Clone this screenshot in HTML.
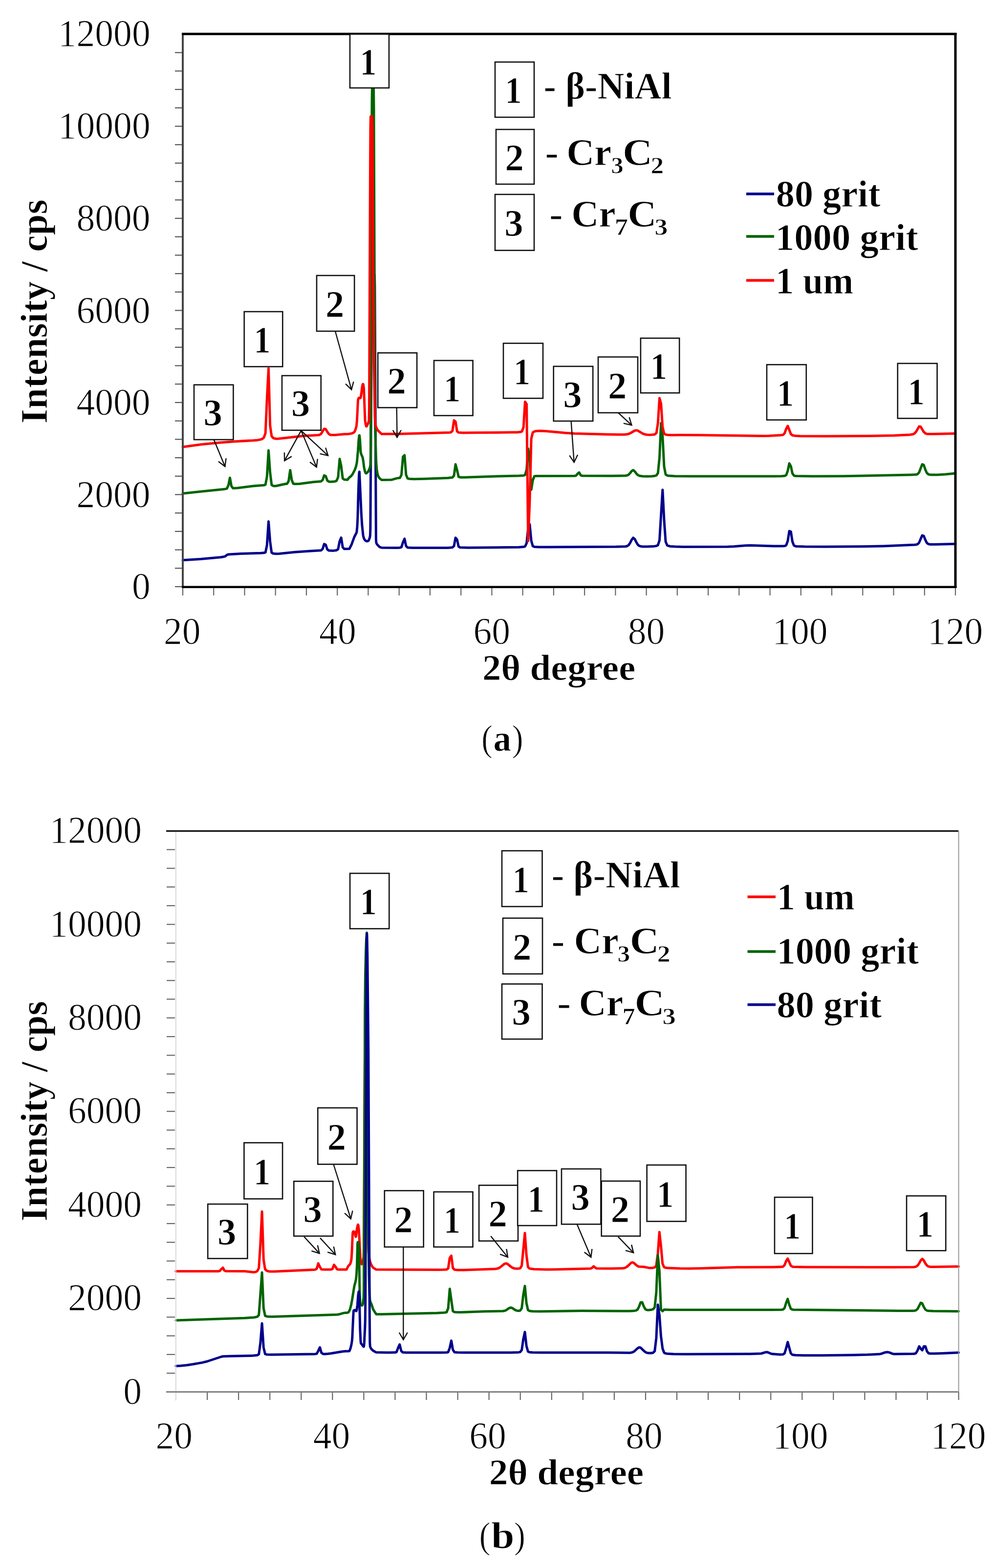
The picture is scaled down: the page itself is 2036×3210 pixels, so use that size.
<!DOCTYPE html>
<html><head><meta charset="utf-8"><title>XRD patterns</title>
<style>html,body{margin:0;padding:0;background:#fff;}svg{display:block;}</style></head>
<body><svg xmlns="http://www.w3.org/2000/svg" width="2036" height="3210" viewBox="0 0 2036 3210">
<rect width="2036" height="3210" fill="#fff"/>
<polyline points="374.0,1146.8 410.4,1144.4 451.5,1140.7 457.8,1139.7 461.0,1138.8 464.1,1136.2 467.3,1134.9 492.6,1133.4 533.7,1132.3 540.0,1131.8 543.2,1130.8 546.3,1115.9 549.5,1067.5 552.7,1108.5 555.8,1131.3 559.0,1133.2 565.3,1133.7 571.6,1133.5 603.3,1130.3 631.7,1128.2 657.0,1126.8 660.2,1123.8 663.3,1113.7 666.5,1115.2 669.7,1124.7 672.8,1127.1 682.3,1127.4 688.6,1126.5 691.8,1124.2 695.0,1108.1 698.1,1100.7 701.3,1120.4 704.4,1123.8 714.9,1123.5 719.4,1114.6 724.9,1099.5 729.4,1090.6 729.9,1089.1 730.9,1078.4 731.9,1059.7 733.4,1002.7 734.4,977.1 734.9,968.1 735.4,965.7 739.4,1052.6 740.9,1075.3 742.9,1094.6 743.4,1097.8 744.4,1101.3 745.4,1103.7 746.9,1105.9 748.9,1107.4 750.4,1108.0 752.4,1107.7 753.9,1107.0 754.4,1106.4 756.4,1101.4 757.4,1096.5 757.9,1081.6 760.4,653.6 761.4,606.6 762.4,575.8 762.9,566.6 763.4,562.6 763.9,562.5 766.4,562.5 766.9,587.3 769.4,1102.9 769.9,1110.9 770.9,1113.3 771.9,1114.8 775.9,1119.1 777.9,1120.4 780.9,1121.2 812.0,1121.4 818.3,1121.2 821.4,1120.2 824.6,1110.3 827.8,1102.9 830.9,1117.7 834.1,1121.1 843.6,1121.6 881.5,1121.6 916.3,1121.4 925.8,1120.8 929.0,1117.8 932.1,1100.9 935.3,1104.7 938.4,1119.0 941.6,1120.8 957.4,1121.2 1036.5,1120.6 1061.8,1120.3 1071.2,1119.6 1074.4,1118.7 1077.6,1111.9 1080.7,1081.8 1083.9,1073.4 1087.1,1106.9 1090.2,1118.0 1093.4,1119.4 1102.9,1120.0 1121.8,1120.1 1261.0,1119.3 1279.9,1118.7 1283.1,1118.0 1286.3,1116.0 1289.4,1111.4 1292.6,1105.0 1295.7,1100.9 1298.9,1103.6 1302.1,1110.0 1305.2,1115.2 1308.4,1117.7 1311.6,1118.6 1314.7,1118.9 1324.2,1119.0 1336.8,1118.6 1343.2,1117.6 1346.3,1116.1 1349.5,1106.1 1355.8,1002.7 1359.0,1065.1 1362.1,1109.0 1365.3,1116.5 1368.5,1117.8 1371.6,1118.4 1381.1,1119.1 1396.9,1119.4 1488.6,1119.3 1501.3,1118.7 1526.6,1116.7 1536.1,1116.4 1583.5,1117.9 1599.3,1118.0 1605.6,1117.7 1608.8,1116.2 1611.9,1107.5 1615.1,1087.2 1618.3,1088.3 1621.4,1108.5 1624.6,1116.8 1627.8,1118.2 1630.9,1118.6 1646.7,1119.1 1687.8,1119.3 1763.7,1118.8 1808.0,1117.9 1871.2,1115.3 1874.4,1115.0 1877.6,1114.1 1880.7,1110.9 1887.0,1096.0 1890.2,1097.1 1893.4,1105.2 1896.5,1111.4 1899.7,1113.8 1902.8,1114.4 1912.3,1114.5 1955.0,1113.4" fill="none" stroke="#00008b" stroke-width="5.0" stroke-linejoin="round" stroke-linecap="round"/>
<polyline points="374.0,1010.3 413.5,1006.0 457.8,1001.6 464.1,1000.4 467.3,993.7 470.5,978.1 473.6,995.5 476.8,999.4 486.3,998.9 517.9,995.1 536.9,993.6 540.0,993.3 543.2,992.1 546.3,975.6 549.5,922.1 552.7,967.4 555.8,992.6 559.0,994.7 562.2,995.0 565.3,994.7 581.1,991.3 587.5,990.3 590.6,984.8 593.8,962.4 596.9,982.2 600.1,990.2 603.3,990.7 612.8,990.5 641.2,986.8 657.0,985.4 660.2,982.6 663.3,973.2 666.5,974.7 669.7,983.7 672.8,985.9 676.0,986.2 682.3,986.1 685.5,985.5 688.6,984.3 691.8,977.1 695.0,939.6 698.1,953.9 701.3,979.4 704.4,981.7 711.0,982.3 714.0,978.2 718.5,974.5 721.5,970.7 726.0,961.9 728.5,954.9 730.0,948.3 730.5,944.6 732.5,922.4 734.0,900.0 735.0,891.7 735.5,891.4 736.5,900.0 738.0,925.0 739.0,929.4 742.0,936.2 743.5,945.0 745.0,957.1 746.5,964.0 748.0,968.3 748.5,968.9 749.0,969.0 750.5,968.3 752.5,966.5 755.0,962.2 757.0,956.8 758.0,951.4 758.5,929.1 760.5,325.9 761.0,211.3 761.5,178.5 764.5,178.5 765.0,221.0 767.0,768.9 767.5,858.7 768.0,888.9 769.5,939.5 770.0,949.8 771.0,961.6 772.5,970.3 774.0,975.0 776.0,978.3 780.0,982.0 781.0,982.5 799.3,982.3 802.5,981.9 812.0,979.1 818.3,978.2 821.4,972.4 824.6,935.1 827.8,931.9 830.9,972.0 834.1,979.4 837.3,980.2 846.7,980.7 868.9,980.3 916.3,978.4 925.8,977.5 929.0,973.6 932.1,950.6 935.3,962.4 938.4,976.2 941.6,977.2 951.1,977.3 1017.5,975.0 1061.8,974.1 1071.2,973.5 1074.4,972.3 1077.6,961.5 1080.7,918.5 1083.9,942.1 1087.1,1002.4 1090.2,983.3 1093.4,975.0 1096.5,974.4 1175.6,974.2 1178.7,973.7 1181.9,969.7 1185.1,967.3 1188.2,972.9 1191.4,974.1 1251.5,974.2 1279.9,973.8 1283.1,973.3 1286.3,971.7 1289.4,968.4 1292.6,964.3 1295.7,962.4 1298.9,965.1 1302.1,969.4 1305.2,972.6 1308.4,974.1 1314.7,974.9 1324.2,975.2 1333.7,975.0 1340.0,974.2 1343.2,973.2 1346.3,968.5 1349.5,936.6 1352.7,866.2 1355.8,893.1 1359.0,955.6 1362.1,971.3 1365.3,973.4 1368.5,974.1 1381.1,974.8 1415.9,975.0 1583.5,974.9 1599.3,974.7 1605.6,974.2 1608.8,972.5 1611.9,963.8 1615.1,948.6 1618.3,954.5 1621.4,969.0 1624.6,973.7 1627.8,974.4 1630.9,974.6 1662.5,975.0 1725.8,974.8 1864.9,972.0 1874.4,971.6 1877.6,970.6 1880.7,967.1 1887.0,950.6 1890.2,951.9 1893.4,961.2 1896.5,968.2 1899.7,971.0 1902.8,971.8 1906.0,972.0 1918.7,972.0 1934.5,971.0 1955.0,969.0" fill="none" stroke="#006400" stroke-width="5.0" stroke-linejoin="round" stroke-linecap="round"/>
<polyline points="374.0,915.0 410.4,910.1 448.3,906.2 476.8,903.9 517.9,901.7 527.4,900.9 533.7,899.6 536.9,898.4 540.0,895.7 543.2,886.7 546.3,815.7 549.5,754.2 552.7,871.2 555.8,892.9 559.0,896.6 562.2,897.8 565.3,898.3 568.5,898.3 622.2,892.2 650.7,890.8 653.9,890.2 657.0,888.1 663.3,877.9 666.5,878.4 669.7,884.0 672.8,888.4 676.0,890.2 679.2,890.6 685.5,890.5 704.4,888.8 713.5,888.4 719.5,887.4 723.0,886.0 725.0,884.5 726.0,882.9 728.5,876.0 729.5,871.5 730.5,859.9 732.5,820.7 733.0,817.3 734.0,814.8 734.5,814.5 737.5,815.0 738.0,814.0 739.5,805.0 741.0,792.0 742.0,787.5 742.5,786.2 743.0,786.2 743.5,787.7 744.5,795.0 747.0,860.0 748.0,867.3 749.0,871.8 749.5,872.8 750.0,872.9 750.5,872.4 753.5,866.0 755.0,860.6 755.5,833.1 757.5,351.0 758.0,263.4 758.5,238.5 761.5,238.5 762.0,256.6 764.0,611.3 765.0,722.8 767.0,850.4 767.5,863.7 768.0,867.9 769.5,874.0 771.5,878.4 773.5,881.4 781.0,888.6 818.3,888.3 919.5,885.4 922.6,885.1 925.8,882.2 929.0,860.6 932.1,863.1 935.3,883.0 938.4,885.4 947.9,885.9 973.2,885.8 1049.1,885.1 1058.6,884.9 1064.9,884.3 1068.1,883.2 1071.2,874.4 1074.4,822.5 1077.6,827.3 1080.7,1107.6 1083.9,1026.8 1087.1,898.1 1090.2,885.3 1093.4,883.3 1096.5,882.5 1106.0,882.1 1118.7,882.7 1156.6,886.2 1175.6,887.4 1242.0,889.3 1276.8,889.7 1283.1,889.1 1286.3,888.3 1289.4,887.0 1298.9,881.5 1302.1,880.9 1305.2,881.7 1314.7,887.4 1317.9,888.7 1321.0,889.6 1324.2,890.0 1330.5,890.2 1336.8,889.8 1340.0,889.2 1343.2,886.4 1346.3,866.2 1349.5,815.0 1352.7,826.7 1355.8,874.4 1359.0,887.8 1362.1,889.6 1365.3,890.2 1374.8,890.7 1390.6,890.5 1431.7,890.8 1561.4,892.4 1574.0,892.2 1599.3,890.7 1602.5,890.1 1605.6,886.7 1608.8,877.7 1611.9,872.0 1618.3,888.5 1621.4,891.2 1627.8,892.2 1637.2,892.8 1691.0,893.0 1792.2,892.3 1830.1,891.4 1861.7,889.9 1868.1,889.0 1871.2,887.5 1874.4,883.9 1880.7,873.0 1883.9,873.5 1890.2,884.2 1893.4,887.1 1896.5,888.2 1899.7,888.5 1909.2,888.5 1955.0,887.5" fill="none" stroke="#ff0000" stroke-width="5.0" stroke-linejoin="round" stroke-linecap="round"/>
<line x1="358" y1="1201.0" x2="374" y2="1201.0" stroke="#555" stroke-width="2.2"/>
<line x1="358" y1="1163.3" x2="374" y2="1163.3" stroke="#555" stroke-width="2.2"/>
<line x1="358" y1="1125.6" x2="374" y2="1125.6" stroke="#555" stroke-width="2.2"/>
<line x1="358" y1="1087.9" x2="374" y2="1087.9" stroke="#555" stroke-width="2.2"/>
<line x1="358" y1="1050.2" x2="374" y2="1050.2" stroke="#555" stroke-width="2.2"/>
<line x1="358" y1="1012.5" x2="374" y2="1012.5" stroke="#555" stroke-width="2.2"/>
<line x1="358" y1="974.8" x2="374" y2="974.8" stroke="#555" stroke-width="2.2"/>
<line x1="358" y1="937.1" x2="374" y2="937.1" stroke="#555" stroke-width="2.2"/>
<line x1="358" y1="899.4" x2="374" y2="899.4" stroke="#555" stroke-width="2.2"/>
<line x1="358" y1="861.7" x2="374" y2="861.7" stroke="#555" stroke-width="2.2"/>
<line x1="358" y1="824.0" x2="374" y2="824.0" stroke="#555" stroke-width="2.2"/>
<line x1="358" y1="786.3" x2="374" y2="786.3" stroke="#555" stroke-width="2.2"/>
<line x1="358" y1="748.6" x2="374" y2="748.6" stroke="#555" stroke-width="2.2"/>
<line x1="358" y1="710.9" x2="374" y2="710.9" stroke="#555" stroke-width="2.2"/>
<line x1="358" y1="673.2" x2="374" y2="673.2" stroke="#555" stroke-width="2.2"/>
<line x1="358" y1="635.5" x2="374" y2="635.5" stroke="#555" stroke-width="2.2"/>
<line x1="358" y1="597.8" x2="374" y2="597.8" stroke="#555" stroke-width="2.2"/>
<line x1="358" y1="560.1" x2="374" y2="560.1" stroke="#555" stroke-width="2.2"/>
<line x1="358" y1="522.4" x2="374" y2="522.4" stroke="#555" stroke-width="2.2"/>
<line x1="358" y1="484.7" x2="374" y2="484.7" stroke="#555" stroke-width="2.2"/>
<line x1="358" y1="447.0" x2="374" y2="447.0" stroke="#555" stroke-width="2.2"/>
<line x1="358" y1="409.3" x2="374" y2="409.3" stroke="#555" stroke-width="2.2"/>
<line x1="358" y1="371.6" x2="374" y2="371.6" stroke="#555" stroke-width="2.2"/>
<line x1="358" y1="333.9" x2="374" y2="333.9" stroke="#555" stroke-width="2.2"/>
<line x1="358" y1="296.2" x2="374" y2="296.2" stroke="#555" stroke-width="2.2"/>
<line x1="358" y1="258.5" x2="374" y2="258.5" stroke="#555" stroke-width="2.2"/>
<line x1="358" y1="220.8" x2="374" y2="220.8" stroke="#555" stroke-width="2.2"/>
<line x1="358" y1="183.1" x2="374" y2="183.1" stroke="#555" stroke-width="2.2"/>
<line x1="358" y1="145.4" x2="374" y2="145.4" stroke="#555" stroke-width="2.2"/>
<line x1="358" y1="107.7" x2="374" y2="107.7" stroke="#555" stroke-width="2.2"/>
<line x1="374.0" y1="1204" x2="374.0" y2="1219" stroke="#666" stroke-width="2.2"/>
<line x1="437.2" y1="1204" x2="437.2" y2="1219" stroke="#666" stroke-width="2.2"/>
<line x1="500.5" y1="1204" x2="500.5" y2="1219" stroke="#666" stroke-width="2.2"/>
<line x1="563.7" y1="1204" x2="563.7" y2="1219" stroke="#666" stroke-width="2.2"/>
<line x1="627.0" y1="1204" x2="627.0" y2="1219" stroke="#666" stroke-width="2.2"/>
<line x1="690.2" y1="1204" x2="690.2" y2="1219" stroke="#666" stroke-width="2.2"/>
<line x1="753.4" y1="1204" x2="753.4" y2="1219" stroke="#666" stroke-width="2.2"/>
<line x1="816.7" y1="1204" x2="816.7" y2="1219" stroke="#666" stroke-width="2.2"/>
<line x1="879.9" y1="1204" x2="879.9" y2="1219" stroke="#666" stroke-width="2.2"/>
<line x1="943.2" y1="1204" x2="943.2" y2="1219" stroke="#666" stroke-width="2.2"/>
<line x1="1006.4" y1="1204" x2="1006.4" y2="1219" stroke="#666" stroke-width="2.2"/>
<line x1="1069.6" y1="1204" x2="1069.6" y2="1219" stroke="#666" stroke-width="2.2"/>
<line x1="1132.9" y1="1204" x2="1132.9" y2="1219" stroke="#666" stroke-width="2.2"/>
<line x1="1196.1" y1="1204" x2="1196.1" y2="1219" stroke="#666" stroke-width="2.2"/>
<line x1="1259.4" y1="1204" x2="1259.4" y2="1219" stroke="#666" stroke-width="2.2"/>
<line x1="1322.6" y1="1204" x2="1322.6" y2="1219" stroke="#666" stroke-width="2.2"/>
<line x1="1385.8" y1="1204" x2="1385.8" y2="1219" stroke="#666" stroke-width="2.2"/>
<line x1="1449.1" y1="1204" x2="1449.1" y2="1219" stroke="#666" stroke-width="2.2"/>
<line x1="1512.3" y1="1204" x2="1512.3" y2="1219" stroke="#666" stroke-width="2.2"/>
<line x1="1575.6" y1="1204" x2="1575.6" y2="1219" stroke="#666" stroke-width="2.2"/>
<line x1="1638.8" y1="1204" x2="1638.8" y2="1219" stroke="#666" stroke-width="2.2"/>
<line x1="1702.0" y1="1204" x2="1702.0" y2="1219" stroke="#666" stroke-width="2.2"/>
<line x1="1765.3" y1="1204" x2="1765.3" y2="1219" stroke="#666" stroke-width="2.2"/>
<line x1="1828.5" y1="1204" x2="1828.5" y2="1219" stroke="#666" stroke-width="2.2"/>
<line x1="1891.8" y1="1204" x2="1891.8" y2="1219" stroke="#666" stroke-width="2.2"/>
<line x1="1955.0" y1="1204" x2="1955.0" y2="1219" stroke="#666" stroke-width="2.2"/>
<line x1="374" y1="69.5" x2="374" y2="1203" stroke="#444" stroke-width="4"/>
<line x1="372" y1="1201.8" x2="1957.5" y2="1201.8" stroke="#000" stroke-width="4.5"/>
<line x1="372" y1="69.5" x2="1957.5" y2="69.5" stroke="#000" stroke-width="5"/>
<line x1="1955" y1="67" x2="1955" y2="1203" stroke="#000" stroke-width="5"/>
<text x="269.89" y="1226.22" font-family="'Liberation Serif', 'Times New Roman', serif" font-size="78.5" stroke="#fff" stroke-width="1.1" textLength="37.79" lengthAdjust="spacingAndGlyphs">0</text>
<text x="156.53" y="1037.72" font-family="'Liberation Serif', 'Times New Roman', serif" font-size="78.5" stroke="#fff" stroke-width="1.1" textLength="151.14" lengthAdjust="spacingAndGlyphs">2000</text>
<text x="156.53" y="849.22" font-family="'Liberation Serif', 'Times New Roman', serif" font-size="78.5" stroke="#fff" stroke-width="1.1" textLength="151.14" lengthAdjust="spacingAndGlyphs">4000</text>
<text x="156.53" y="660.72" font-family="'Liberation Serif', 'Times New Roman', serif" font-size="78.5" stroke="#fff" stroke-width="1.1" textLength="151.14" lengthAdjust="spacingAndGlyphs">6000</text>
<text x="156.53" y="472.22" font-family="'Liberation Serif', 'Times New Roman', serif" font-size="78.5" stroke="#fff" stroke-width="1.1" textLength="151.14" lengthAdjust="spacingAndGlyphs">8000</text>
<text x="118.75" y="282.72" font-family="'Liberation Serif', 'Times New Roman', serif" font-size="78.5" stroke="#fff" stroke-width="1.1" textLength="188.93" lengthAdjust="spacingAndGlyphs">10000</text>
<text x="118.75" y="94.22" font-family="'Liberation Serif', 'Times New Roman', serif" font-size="78.5" stroke="#fff" stroke-width="1.1" textLength="188.93" lengthAdjust="spacingAndGlyphs">12000</text>
<text x="334.99" y="1318.00" font-family="'Liberation Serif', 'Times New Roman', serif" font-size="78.5" stroke="#fff" stroke-width="1.1" textLength="75.57" lengthAdjust="spacingAndGlyphs">20</text>
<text x="653.12" y="1318.00" font-family="'Liberation Serif', 'Times New Roman', serif" font-size="78.5" stroke="#fff" stroke-width="1.1" textLength="75.57" lengthAdjust="spacingAndGlyphs">40</text>
<text x="968.43" y="1318.00" font-family="'Liberation Serif', 'Times New Roman', serif" font-size="78.5" stroke="#fff" stroke-width="1.1" textLength="75.57" lengthAdjust="spacingAndGlyphs">60</text>
<text x="1284.81" y="1318.00" font-family="'Liberation Serif', 'Times New Roman', serif" font-size="78.5" stroke="#fff" stroke-width="1.1" textLength="75.57" lengthAdjust="spacingAndGlyphs">80</text>
<text x="1580.24" y="1318.00" font-family="'Liberation Serif', 'Times New Roman', serif" font-size="78.5" stroke="#fff" stroke-width="1.1" textLength="113.36" lengthAdjust="spacingAndGlyphs">100</text>
<text x="1897.94" y="1318.00" font-family="'Liberation Serif', 'Times New Roman', serif" font-size="78.5" stroke="#fff" stroke-width="1.1" textLength="113.36" lengthAdjust="spacingAndGlyphs">120</text>
<text transform="translate(96.20,0) rotate(-90)" x="-867.20" y="0" font-family="'Liberation Serif', 'Times New Roman', serif" font-size="79" font-weight="bold" stroke="#fff" stroke-width="0.9" textLength="458.68" lengthAdjust="spacingAndGlyphs">Intensity / cps</text>
<text x="987.00" y="1392.20" font-family="'Liberation Serif', 'Times New Roman', serif" font-size="73.9" font-weight="bold" stroke="#fff" stroke-width="0.9" textLength="313.18" lengthAdjust="spacingAndGlyphs" >2θ degree</text>
<text x="984.95" y="1536.50" font-family="'Liberation Serif', 'Times New Roman', serif" font-size="76.5" stroke="#fff" stroke-width="1.1" textLength="23.08" lengthAdjust="spacingAndGlyphs" >(</text>
<text x="1009.45" y="1536.50" font-family="'Liberation Serif', 'Times New Roman', serif" font-size="76.5" font-weight="bold" stroke="#fff" stroke-width="0.9" textLength="36.45" lengthAdjust="spacingAndGlyphs" >a</text>
<text x="1047.55" y="1536.50" font-family="'Liberation Serif', 'Times New Roman', serif" font-size="76.5" stroke="#fff" stroke-width="1.1" textLength="23.21" lengthAdjust="spacingAndGlyphs" >)</text>
<rect x="1013.0" y="127.0" width="80.0" height="113.0" fill="#fff" stroke="#111" stroke-width="2.6"/>
<text x="1033.55" y="211.38" font-family="'Liberation Serif', 'Times New Roman', serif" font-weight="bold" font-size="79" stroke="#fff" stroke-width="0.9" textLength="33.97" lengthAdjust="spacingAndGlyphs">1</text>
<rect x="1015.0" y="265.0" width="78.0" height="112.0" fill="#fff" stroke="#111" stroke-width="2.6"/>
<text x="1033.38" y="348.95" font-family="'Liberation Serif', 'Times New Roman', serif" font-weight="bold" font-size="79" stroke="#fff" stroke-width="0.9" textLength="38.31" lengthAdjust="spacingAndGlyphs">2</text>
<rect x="1013.0" y="398.0" width="80.0" height="114.6" fill="#fff" stroke="#111" stroke-width="2.6"/>
<text x="1032.21" y="482.87" font-family="'Liberation Serif', 'Times New Roman', serif" font-weight="bold" font-size="79" stroke="#fff" stroke-width="0.9" textLength="38.31" lengthAdjust="spacingAndGlyphs">3</text>
<text x="1112.61" y="202.30" font-family="'Liberation Serif', 'Times New Roman', serif" font-size="79" font-weight="bold" stroke="#fff" stroke-width="0.9" textLength="261.99" lengthAdjust="spacingAndGlyphs" >- β-NiAl</text>
<text x="1115.25" y="337.70" font-family="'Liberation Serif', 'Times New Roman', serif" font-size="79" font-weight="bold" stroke="#fff" stroke-width="0.9" textLength="27.69" lengthAdjust="spacingAndGlyphs" >-</text>
<text x="1159.15" y="337.70" font-family="'Liberation Serif', 'Times New Roman', serif" font-size="79" font-weight="bold" stroke="#fff" stroke-width="0.9" textLength="91.94" lengthAdjust="spacingAndGlyphs" >Cr</text>
<text x="1250.40" y="355.20" font-family="'Liberation Serif', 'Times New Roman', serif" font-size="49" font-weight="bold" stroke="#fff" stroke-width="0.9" textLength="25.22" lengthAdjust="spacingAndGlyphs" >3</text>
<text x="1274.07" y="337.70" font-family="'Liberation Serif', 'Times New Roman', serif" font-size="79" font-weight="bold" stroke="#fff" stroke-width="0.9" textLength="61.07" lengthAdjust="spacingAndGlyphs" >C</text>
<text x="1331.55" y="355.20" font-family="'Liberation Serif', 'Times New Roman', serif" font-size="49" font-weight="bold" stroke="#fff" stroke-width="0.9" textLength="26.74" lengthAdjust="spacingAndGlyphs" >2</text>
<text x="1123.95" y="463.70" font-family="'Liberation Serif', 'Times New Roman', serif" font-size="79" font-weight="bold" stroke="#fff" stroke-width="0.9" textLength="27.69" lengthAdjust="spacingAndGlyphs" >-</text>
<text x="1169.21" y="463.70" font-family="'Liberation Serif', 'Times New Roman', serif" font-size="79" font-weight="bold" stroke="#fff" stroke-width="0.9" textLength="90.45" lengthAdjust="spacingAndGlyphs" >Cr</text>
<text x="1257.86" y="481.20" font-family="'Liberation Serif', 'Times New Roman', serif" font-size="49" font-weight="bold" stroke="#fff" stroke-width="0.9" textLength="27.48" lengthAdjust="spacingAndGlyphs" >7</text>
<text x="1284.29" y="463.70" font-family="'Liberation Serif', 'Times New Roman', serif" font-size="79" font-weight="bold" stroke="#fff" stroke-width="0.9" textLength="59.26" lengthAdjust="spacingAndGlyphs" >C</text>
<text x="1339.58" y="481.20" font-family="'Liberation Serif', 'Times New Roman', serif" font-size="49" font-weight="bold" stroke="#fff" stroke-width="0.9" textLength="26.86" lengthAdjust="spacingAndGlyphs" >3</text>
<line x1="1527" y1="397" x2="1584" y2="397" stroke="#00008b" stroke-width="5.5"/>
<text x="1587.87" y="423.30" font-family="'Liberation Serif', 'Times New Roman', serif" font-size="78" font-weight="bold" stroke="#fff" stroke-width="0.9" textLength="213.66" lengthAdjust="spacingAndGlyphs" >80 grit</text>
<line x1="1527" y1="484" x2="1584" y2="484" stroke="#006400" stroke-width="5.5"/>
<text x="1586.85" y="512.40" font-family="'Liberation Serif', 'Times New Roman', serif" font-size="78" font-weight="bold" stroke="#fff" stroke-width="0.9" textLength="291.98" lengthAdjust="spacingAndGlyphs" >1000 grit</text>
<line x1="1527" y1="574" x2="1584" y2="574" stroke="#ff0000" stroke-width="5.5"/>
<text x="1587.04" y="601.00" font-family="'Liberation Serif', 'Times New Roman', serif" font-size="78" font-weight="bold" stroke="#fff" stroke-width="0.9" textLength="159.23" lengthAdjust="spacingAndGlyphs" >1 um</text>
<rect x="716.0" y="70.0" width="80.0" height="110.0" fill="#fff" stroke="#111" stroke-width="2.6"/>
<text x="736.55" y="152.88" font-family="'Liberation Serif', 'Times New Roman', serif" font-weight="bold" font-size="79" stroke="#fff" stroke-width="0.9" textLength="33.97" lengthAdjust="spacingAndGlyphs">1</text>
<rect x="499.7" y="638.0" width="78.6" height="112.6" fill="#fff" stroke="#111" stroke-width="2.6"/>
<text x="519.55" y="722.18" font-family="'Liberation Serif', 'Times New Roman', serif" font-weight="bold" font-size="79" stroke="#fff" stroke-width="0.9" textLength="33.97" lengthAdjust="spacingAndGlyphs">1</text>
<rect x="397.0" y="787.8" width="80.4" height="112.2" fill="#fff" stroke="#111" stroke-width="2.6"/>
<text x="416.41" y="871.47" font-family="'Liberation Serif', 'Times New Roman', serif" font-weight="bold" font-size="79" stroke="#fff" stroke-width="0.9" textLength="38.31" lengthAdjust="spacingAndGlyphs">3</text>
<rect x="577.0" y="769.0" width="79.8" height="111.8" fill="#fff" stroke="#111" stroke-width="2.6"/>
<text x="596.11" y="852.47" font-family="'Liberation Serif', 'Times New Roman', serif" font-weight="bold" font-size="79" stroke="#fff" stroke-width="0.9" textLength="38.31" lengthAdjust="spacingAndGlyphs">3</text>
<rect x="648.0" y="564.0" width="77.2" height="114.0" fill="#fff" stroke="#111" stroke-width="2.6"/>
<text x="665.98" y="648.95" font-family="'Liberation Serif', 'Times New Roman', serif" font-weight="bold" font-size="79" stroke="#fff" stroke-width="0.9" textLength="38.31" lengthAdjust="spacingAndGlyphs">2</text>
<rect x="773.2" y="722.4" width="79.9" height="112.1" fill="#fff" stroke="#111" stroke-width="2.6"/>
<text x="792.53" y="806.40" font-family="'Liberation Serif', 'Times New Roman', serif" font-weight="bold" font-size="79" stroke="#fff" stroke-width="0.9" textLength="38.31" lengthAdjust="spacingAndGlyphs">2</text>
<rect x="888.0" y="738.0" width="79.6" height="112.8" fill="#fff" stroke="#111" stroke-width="2.6"/>
<text x="908.35" y="822.28" font-family="'Liberation Serif', 'Times New Roman', serif" font-weight="bold" font-size="79" stroke="#fff" stroke-width="0.9" textLength="33.97" lengthAdjust="spacingAndGlyphs">1</text>
<rect x="1030.0" y="702.8" width="81.0" height="112.6" fill="#fff" stroke="#111" stroke-width="2.6"/>
<text x="1051.05" y="786.98" font-family="'Liberation Serif', 'Times New Roman', serif" font-weight="bold" font-size="79" stroke="#fff" stroke-width="0.9" textLength="33.97" lengthAdjust="spacingAndGlyphs">1</text>
<rect x="1132.7" y="750.0" width="80.5" height="112.0" fill="#fff" stroke="#111" stroke-width="2.6"/>
<text x="1152.16" y="833.57" font-family="'Liberation Serif', 'Times New Roman', serif" font-weight="bold" font-size="79" stroke="#fff" stroke-width="0.9" textLength="38.31" lengthAdjust="spacingAndGlyphs">3</text>
<rect x="1224.0" y="730.8" width="81.0" height="114.2" fill="#fff" stroke="#111" stroke-width="2.6"/>
<text x="1243.88" y="815.85" font-family="'Liberation Serif', 'Times New Roman', serif" font-weight="bold" font-size="79" stroke="#fff" stroke-width="0.9" textLength="38.31" lengthAdjust="spacingAndGlyphs">2</text>
<rect x="1310.9" y="692.3" width="79.3" height="112.1" fill="#fff" stroke="#111" stroke-width="2.6"/>
<text x="1331.10" y="776.23" font-family="'Liberation Serif', 'Times New Roman', serif" font-weight="bold" font-size="79" stroke="#fff" stroke-width="0.9" textLength="33.97" lengthAdjust="spacingAndGlyphs">1</text>
<rect x="1569.0" y="746.5" width="80.8" height="113.2" fill="#fff" stroke="#111" stroke-width="2.6"/>
<text x="1589.95" y="830.98" font-family="'Liberation Serif', 'Times New Roman', serif" font-weight="bold" font-size="79" stroke="#fff" stroke-width="0.9" textLength="33.97" lengthAdjust="spacingAndGlyphs">1</text>
<rect x="1836.8" y="744.0" width="80.8" height="112.5" fill="#fff" stroke="#111" stroke-width="2.6"/>
<text x="1857.75" y="828.13" font-family="'Liberation Serif', 'Times New Roman', serif" font-weight="bold" font-size="79" stroke="#fff" stroke-width="0.9" textLength="33.97" lengthAdjust="spacingAndGlyphs">1</text>
<line x1="437.6" y1="900.0" x2="460.4" y2="955.0" stroke="#111" stroke-width="2.4"/>
<polyline points="462.6,938.1 460.4,955.0 446.9,944.7" fill="none" stroke="#111" stroke-width="2.4" stroke-linejoin="miter"/>
<line x1="616.2" y1="881.6" x2="582.2" y2="943.2" stroke="#111" stroke-width="2.4"/>
<polyline points="596.8,934.4 582.2,943.2 581.9,926.2" fill="none" stroke="#111" stroke-width="2.4" stroke-linejoin="miter"/>
<line x1="616.2" y1="881.6" x2="647.7" y2="956.3" stroke="#111" stroke-width="2.4"/>
<polyline points="649.8,939.4 647.7,956.3 634.1,946.0" fill="none" stroke="#111" stroke-width="2.4" stroke-linejoin="miter"/>
<line x1="616.2" y1="881.6" x2="671.2" y2="932.7" stroke="#111" stroke-width="2.4"/>
<polyline points="666.2,916.5 671.2,932.7 654.6,928.9" fill="none" stroke="#111" stroke-width="2.4" stroke-linejoin="miter"/>
<line x1="686.0" y1="678.0" x2="719.2" y2="797.7" stroke="#111" stroke-width="2.4"/>
<polyline points="723.5,781.2 719.2,797.7 707.1,785.8" fill="none" stroke="#111" stroke-width="2.4" stroke-linejoin="miter"/>
<line x1="811.7" y1="834.5" x2="812.5" y2="895.3" stroke="#111" stroke-width="2.4"/>
<polyline points="820.8,880.5 812.5,895.3 803.8,880.7" fill="none" stroke="#111" stroke-width="2.4" stroke-linejoin="miter"/>
<line x1="1168.6" y1="862.0" x2="1174.7" y2="946.4" stroke="#111" stroke-width="2.4"/>
<polyline points="1182.1,931.1 1174.7,946.4 1165.2,932.3" fill="none" stroke="#111" stroke-width="2.4" stroke-linejoin="miter"/>
<line x1="1265.0" y1="845.0" x2="1292.5" y2="870.4" stroke="#111" stroke-width="2.4"/>
<polyline points="1287.5,854.2 1292.5,870.4 1275.9,866.7" fill="none" stroke="#111" stroke-width="2.4" stroke-linejoin="miter"/>
<polyline points="360.0,2602.5 446.4,2602.4 449.6,2602.0 452.8,2598.2 456.0,2595.2 459.2,2601.0 462.5,2602.3 500.9,2602.5 516.9,2604.3 520.1,2604.4 523.3,2603.9 526.5,2602.1 529.7,2595.9 532.9,2545.7 536.1,2480.2 539.3,2578.5 542.5,2598.4 545.7,2601.4 548.9,2602.5 552.1,2603.0 561.7,2603.1 644.9,2599.2 648.1,2597.3 651.3,2586.4 654.5,2593.7 657.7,2598.7 664.2,2599.0 677.0,2598.9 680.2,2597.9 683.4,2589.4 686.6,2593.3 689.8,2598.6 693.0,2599.0 709.0,2599.1 712.5,2592.0 715.5,2588.9 717.0,2586.6 718.5,2581.1 719.0,2577.7 720.0,2563.8 721.5,2526.9 722.0,2522.4 723.0,2521.0 724.0,2521.2 725.5,2522.0 726.0,2523.3 727.5,2531.0 728.0,2532.0 728.5,2530.6 730.5,2515.0 731.5,2510.0 732.5,2507.0 733.0,2507.8 733.5,2510.6 734.5,2520.0 737.5,2580.0 739.0,2586.7 739.5,2587.7 740.0,2588.0 741.0,2585.7 743.0,2578.7 744.0,2573.6 744.5,2557.0 746.5,2149.1 747.0,2072.1 747.5,2050.1 748.5,2056.7 749.5,2073.0 750.5,2097.2 751.0,2127.8 753.0,2486.4 753.5,2546.1 754.0,2562.5 755.5,2575.4 757.0,2582.0 758.5,2586.5 761.0,2591.5 763.0,2594.6 764.5,2595.8 770.0,2599.0 897.9,2599.4 907.5,2599.3 913.9,2598.9 917.1,2596.6 920.3,2575.1 923.5,2570.7 926.7,2595.7 929.9,2599.2 936.3,2599.9 949.1,2600.0 1013.1,2597.7 1016.3,2597.3 1019.5,2596.5 1022.7,2594.9 1032.3,2587.3 1035.5,2586.4 1038.7,2587.6 1045.1,2593.0 1048.3,2595.1 1051.5,2596.5 1054.7,2597.1 1057.9,2597.3 1061.2,2597.1 1064.4,2596.4 1067.6,2591.2 1074.0,2524.2 1077.2,2569.4 1080.4,2593.7 1083.6,2596.9 1086.8,2597.6 1093.2,2598.2 1118.8,2599.0 1138.0,2598.8 1208.4,2596.9 1211.6,2595.6 1214.8,2592.3 1218.0,2595.3 1221.2,2596.8 1250.0,2597.0 1272.5,2596.5 1275.7,2596.2 1278.9,2595.4 1282.1,2593.8 1285.3,2591.2 1291.7,2585.0 1294.9,2584.4 1298.1,2586.4 1301.3,2589.4 1304.5,2591.9 1307.7,2593.1 1317.3,2593.5 1326.9,2595.4 1330.1,2595.7 1336.5,2595.4 1339.7,2594.6 1342.9,2590.9 1346.1,2566.0 1349.3,2522.2 1352.5,2550.7 1355.7,2586.8 1358.9,2594.2 1362.1,2595.3 1365.3,2595.7 1390.9,2596.8 1410.1,2597.0 1435.7,2596.5 1509.4,2594.2 1583.0,2593.9 1599.0,2593.6 1602.2,2593.0 1605.4,2589.9 1608.6,2581.6 1611.8,2576.6 1618.2,2591.1 1621.4,2593.2 1624.6,2593.6 1647.0,2594.0 1823.1,2594.2 1868.0,2593.9 1871.2,2593.7 1874.4,2593.0 1877.6,2590.9 1880.8,2586.4 1884.0,2580.3 1887.2,2577.2 1890.4,2580.5 1893.6,2586.5 1896.8,2590.8 1900.0,2592.8 1903.2,2593.4 1912.8,2593.6 1961.6,2592.7" fill="none" stroke="#ff0000" stroke-width="5.0" stroke-linejoin="round" stroke-linecap="round"/>
<polyline points="360.0,2703.0 500.9,2698.2 520.1,2697.0 526.5,2695.6 529.7,2692.0 536.1,2605.1 539.3,2678.0 542.5,2693.7 545.7,2694.9 548.9,2695.3 558.5,2695.4 683.4,2691.6 689.8,2691.3 693.0,2690.8 702.6,2688.1 705.8,2687.6 710.0,2687.5 712.5,2686.9 714.0,2685.1 716.0,2680.8 718.5,2671.6 720.5,2661.0 725.0,2632.8 727.5,2623.6 728.5,2618.5 729.5,2608.3 730.5,2590.0 731.5,2548.2 732.0,2543.0 733.0,2543.0 733.5,2546.2 734.0,2554.9 735.0,2584.3 736.0,2646.0 737.0,2667.3 737.5,2670.1 738.0,2670.8 740.0,2672.3 741.0,2672.5 741.5,2672.2 742.5,2668.8 744.0,2657.1 744.5,2637.4 747.0,2042.9 747.5,1995.1 748.5,1951.7 749.5,1921.9 750.5,1909.6 751.0,1934.4 751.5,2022.2 753.5,2519.5 755.0,2612.1 756.0,2646.6 757.0,2662.0 758.0,2665.5 760.5,2670.9 763.5,2680.2 765.5,2683.8 770.0,2690.5 779.4,2690.6 894.7,2687.9 907.5,2687.3 910.7,2687.0 913.9,2686.2 917.1,2678.2 920.3,2638.5 926.7,2684.1 929.9,2686.1 933.1,2686.3 942.7,2686.4 990.7,2684.7 1029.1,2684.0 1032.3,2683.5 1035.5,2682.3 1041.9,2677.9 1045.1,2676.8 1048.3,2677.9 1054.7,2682.2 1057.9,2683.2 1061.2,2683.5 1064.4,2683.0 1067.6,2678.1 1070.8,2650.6 1074.0,2632.6 1077.2,2667.5 1080.4,2681.9 1083.6,2683.7 1090.0,2684.4 1106.0,2684.7 1189.2,2683.5 1272.5,2684.0 1288.5,2683.9 1298.1,2683.4 1301.3,2682.9 1304.5,2681.0 1307.7,2674.9 1310.9,2666.2 1314.1,2666.0 1317.3,2674.4 1320.5,2680.2 1323.7,2681.8 1326.9,2682.0 1333.3,2681.2 1336.5,2680.2 1339.7,2676.1 1342.9,2646.0 1346.1,2569.7 1349.3,2602.1 1352.5,2681.0 1355.7,2684.2 1358.9,2680.9 1371.7,2681.4 1397.3,2681.6 1579.8,2681.5 1599.0,2681.2 1602.2,2680.8 1605.4,2677.9 1608.6,2667.1 1611.8,2659.1 1615.0,2670.8 1618.2,2679.3 1621.4,2681.0 1624.6,2681.3 1839.1,2683.4 1868.0,2683.4 1871.2,2683.2 1874.4,2682.4 1877.6,2679.7 1884.0,2667.0 1887.2,2668.4 1890.4,2675.7 1893.6,2681.0 1896.8,2683.0 1900.0,2683.5 1909.6,2683.9 1961.6,2684.4" fill="none" stroke="#006400" stroke-width="5.0" stroke-linejoin="round" stroke-linecap="round"/>
<polyline points="360.0,2796.4 369.6,2796.0 382.4,2794.7 395.2,2792.8 414.4,2789.4 424.0,2787.0 452.8,2777.5 456.0,2776.8 472.1,2776.2 513.7,2775.5 520.1,2775.1 526.5,2774.3 529.7,2772.3 532.9,2748.6 536.1,2709.2 539.3,2758.5 542.5,2771.9 545.7,2772.9 555.3,2773.2 644.9,2771.9 648.1,2771.4 651.3,2765.4 654.5,2758.3 657.7,2769.2 661.0,2771.7 664.2,2771.9 670.6,2771.5 677.0,2770.7 699.4,2767.0 705.8,2766.3 714.8,2766.0 716.3,2762.7 717.8,2757.9 719.3,2751.2 720.3,2744.5 720.8,2739.1 722.8,2694.5 723.3,2686.1 723.8,2682.9 724.8,2682.3 726.3,2682.1 728.8,2684.0 729.3,2683.7 729.8,2682.2 731.3,2672.0 732.8,2652.4 733.8,2645.2 734.3,2644.0 734.8,2647.3 735.3,2655.7 736.8,2720.3 737.8,2743.0 738.3,2748.5 738.8,2750.4 741.3,2753.3 743.3,2756.4 744.3,2756.9 744.8,2754.8 745.3,2749.7 746.8,2718.4 747.3,2703.3 747.8,2655.9 749.8,2028.0 750.3,1928.2 750.8,1910.9 751.8,1955.3 753.8,2150.0 756.3,2691.8 756.8,2748.7 757.3,2756.2 758.3,2759.1 760.8,2762.7 763.8,2765.3 769.8,2768.6 792.2,2769.0 808.2,2768.8 811.4,2767.9 814.6,2759.4 817.8,2752.4 821.0,2765.6 824.2,2768.6 830.6,2768.9 849.8,2769.1 901.1,2769.0 913.9,2768.7 917.1,2768.0 920.3,2759.3 923.5,2744.6 926.7,2763.1 929.9,2768.3 936.3,2768.8 949.1,2768.9 1045.1,2768.9 1061.2,2768.4 1064.4,2767.9 1067.6,2763.8 1070.8,2741.5 1074.0,2726.9 1077.2,2755.1 1080.4,2766.8 1083.6,2768.3 1090.0,2768.8 1106.0,2769.0 1243.6,2768.9 1288.5,2769.4 1291.7,2769.1 1294.9,2768.2 1298.1,2766.3 1304.5,2760.3 1307.7,2758.3 1310.9,2759.0 1317.3,2765.3 1320.5,2767.9 1323.7,2769.4 1326.9,2770.1 1333.3,2770.0 1336.5,2769.3 1339.7,2766.1 1342.9,2739.2 1346.1,2670.9 1349.3,2692.0 1352.5,2735.2 1355.7,2760.4 1358.9,2769.2 1362.1,2770.8 1365.3,2771.3 1378.1,2772.0 1403.7,2772.2 1535.0,2771.7 1557.4,2771.0 1567.0,2768.2 1570.2,2768.1 1576.6,2770.8 1579.8,2771.8 1595.8,2772.9 1602.2,2772.8 1605.4,2770.6 1608.6,2760.0 1611.8,2747.5 1618.2,2770.5 1621.4,2773.5 1627.8,2774.3 1643.8,2774.8 1682.3,2774.7 1746.3,2773.9 1775.1,2773.3 1800.7,2771.9 1803.9,2771.2 1810.3,2768.9 1813.5,2768.2 1816.7,2768.1 1819.9,2768.9 1826.3,2771.4 1829.5,2772.0 1868.0,2771.6 1871.2,2771.4 1874.4,2770.1 1877.6,2764.4 1880.8,2756.3 1884.0,2760.9 1887.2,2764.2 1890.4,2756.2 1893.6,2756.3 1896.8,2766.3 1900.0,2770.4 1903.2,2771.0 1912.8,2771.1 1928.8,2770.6 1961.6,2768.9" fill="none" stroke="#00008b" stroke-width="5.0" stroke-linejoin="round" stroke-linecap="round"/>
<line x1="341" y1="2849.5" x2="358" y2="2849.5" stroke="#666" stroke-width="2.2"/>
<line x1="341" y1="2811.2" x2="358" y2="2811.2" stroke="#666" stroke-width="2.2"/>
<line x1="341" y1="2772.9" x2="358" y2="2772.9" stroke="#666" stroke-width="2.2"/>
<line x1="341" y1="2734.7" x2="358" y2="2734.7" stroke="#666" stroke-width="2.2"/>
<line x1="341" y1="2696.4" x2="358" y2="2696.4" stroke="#666" stroke-width="2.2"/>
<line x1="341" y1="2658.1" x2="358" y2="2658.1" stroke="#666" stroke-width="2.2"/>
<line x1="341" y1="2619.8" x2="358" y2="2619.8" stroke="#666" stroke-width="2.2"/>
<line x1="341" y1="2581.5" x2="358" y2="2581.5" stroke="#666" stroke-width="2.2"/>
<line x1="341" y1="2543.2" x2="358" y2="2543.2" stroke="#666" stroke-width="2.2"/>
<line x1="341" y1="2504.9" x2="358" y2="2504.9" stroke="#666" stroke-width="2.2"/>
<line x1="341" y1="2466.7" x2="358" y2="2466.7" stroke="#666" stroke-width="2.2"/>
<line x1="341" y1="2428.4" x2="358" y2="2428.4" stroke="#666" stroke-width="2.2"/>
<line x1="341" y1="2390.1" x2="358" y2="2390.1" stroke="#666" stroke-width="2.2"/>
<line x1="341" y1="2351.8" x2="358" y2="2351.8" stroke="#666" stroke-width="2.2"/>
<line x1="341" y1="2313.5" x2="358" y2="2313.5" stroke="#666" stroke-width="2.2"/>
<line x1="341" y1="2275.2" x2="358" y2="2275.2" stroke="#666" stroke-width="2.2"/>
<line x1="341" y1="2237.0" x2="358" y2="2237.0" stroke="#666" stroke-width="2.2"/>
<line x1="341" y1="2198.7" x2="358" y2="2198.7" stroke="#666" stroke-width="2.2"/>
<line x1="341" y1="2160.4" x2="358" y2="2160.4" stroke="#666" stroke-width="2.2"/>
<line x1="341" y1="2122.1" x2="358" y2="2122.1" stroke="#666" stroke-width="2.2"/>
<line x1="341" y1="2083.8" x2="358" y2="2083.8" stroke="#666" stroke-width="2.2"/>
<line x1="341" y1="2045.5" x2="358" y2="2045.5" stroke="#666" stroke-width="2.2"/>
<line x1="341" y1="2007.3" x2="358" y2="2007.3" stroke="#666" stroke-width="2.2"/>
<line x1="341" y1="1969.0" x2="358" y2="1969.0" stroke="#666" stroke-width="2.2"/>
<line x1="341" y1="1930.7" x2="358" y2="1930.7" stroke="#666" stroke-width="2.2"/>
<line x1="341" y1="1892.4" x2="358" y2="1892.4" stroke="#666" stroke-width="2.2"/>
<line x1="341" y1="1854.1" x2="358" y2="1854.1" stroke="#666" stroke-width="2.2"/>
<line x1="341" y1="1815.8" x2="358" y2="1815.8" stroke="#666" stroke-width="2.2"/>
<line x1="341" y1="1777.6" x2="358" y2="1777.6" stroke="#666" stroke-width="2.2"/>
<line x1="341" y1="1739.3" x2="358" y2="1739.3" stroke="#666" stroke-width="2.2"/>
<line x1="341" y1="1701.0" x2="358" y2="1701.0" stroke="#666" stroke-width="2.2"/>
<line x1="424.1" y1="2850" x2="424.1" y2="2866" stroke="#666" stroke-width="2.2"/>
<line x1="488.1" y1="2850" x2="488.1" y2="2866" stroke="#666" stroke-width="2.2"/>
<line x1="552.2" y1="2850" x2="552.2" y2="2866" stroke="#666" stroke-width="2.2"/>
<line x1="616.3" y1="2850" x2="616.3" y2="2866" stroke="#666" stroke-width="2.2"/>
<line x1="680.3" y1="2850" x2="680.3" y2="2866" stroke="#666" stroke-width="2.2"/>
<line x1="744.4" y1="2850" x2="744.4" y2="2866" stroke="#666" stroke-width="2.2"/>
<line x1="808.4" y1="2850" x2="808.4" y2="2866" stroke="#666" stroke-width="2.2"/>
<line x1="872.5" y1="2850" x2="872.5" y2="2866" stroke="#666" stroke-width="2.2"/>
<line x1="936.6" y1="2850" x2="936.6" y2="2866" stroke="#666" stroke-width="2.2"/>
<line x1="1000.6" y1="2850" x2="1000.6" y2="2866" stroke="#666" stroke-width="2.2"/>
<line x1="1064.7" y1="2850" x2="1064.7" y2="2866" stroke="#666" stroke-width="2.2"/>
<line x1="1128.8" y1="2850" x2="1128.8" y2="2866" stroke="#666" stroke-width="2.2"/>
<line x1="1192.8" y1="2850" x2="1192.8" y2="2866" stroke="#666" stroke-width="2.2"/>
<line x1="1256.9" y1="2850" x2="1256.9" y2="2866" stroke="#666" stroke-width="2.2"/>
<line x1="1321.0" y1="2850" x2="1321.0" y2="2866" stroke="#666" stroke-width="2.2"/>
<line x1="1385.0" y1="2850" x2="1385.0" y2="2866" stroke="#666" stroke-width="2.2"/>
<line x1="1449.1" y1="2850" x2="1449.1" y2="2866" stroke="#666" stroke-width="2.2"/>
<line x1="1513.2" y1="2850" x2="1513.2" y2="2866" stroke="#666" stroke-width="2.2"/>
<line x1="1577.2" y1="2850" x2="1577.2" y2="2866" stroke="#666" stroke-width="2.2"/>
<line x1="1641.3" y1="2850" x2="1641.3" y2="2866" stroke="#666" stroke-width="2.2"/>
<line x1="1705.3" y1="2850" x2="1705.3" y2="2866" stroke="#666" stroke-width="2.2"/>
<line x1="1769.4" y1="2850" x2="1769.4" y2="2866" stroke="#666" stroke-width="2.2"/>
<line x1="1833.5" y1="2850" x2="1833.5" y2="2866" stroke="#666" stroke-width="2.2"/>
<line x1="1897.5" y1="2850" x2="1897.5" y2="2866" stroke="#666" stroke-width="2.2"/>
<line x1="1961.6" y1="2850" x2="1961.6" y2="2866" stroke="#666" stroke-width="2.2"/>
<line x1="359.8" y1="1701" x2="359.8" y2="2867" stroke="#d9d9d9" stroke-width="2"/>
<line x1="340" y1="2849.5" x2="1962.5" y2="2849.5" stroke="#808080" stroke-width="3"/>
<line x1="340" y1="1701.3" x2="1961" y2="1701.3" stroke="#000" stroke-width="3"/>
<line x1="1961.6" y1="1700" x2="1961.6" y2="2850" stroke="#999" stroke-width="2"/>
<text x="252.29" y="2873.72" font-family="'Liberation Serif', 'Times New Roman', serif" font-size="78.5" stroke="#fff" stroke-width="1.1" textLength="37.79" lengthAdjust="spacingAndGlyphs">0</text>
<text x="138.93" y="2682.30" font-family="'Liberation Serif', 'Times New Roman', serif" font-size="78.5" stroke="#fff" stroke-width="1.1" textLength="151.14" lengthAdjust="spacingAndGlyphs">2000</text>
<text x="138.93" y="2490.88" font-family="'Liberation Serif', 'Times New Roman', serif" font-size="78.5" stroke="#fff" stroke-width="1.1" textLength="151.14" lengthAdjust="spacingAndGlyphs">4000</text>
<text x="138.93" y="2299.47" font-family="'Liberation Serif', 'Times New Roman', serif" font-size="78.5" stroke="#fff" stroke-width="1.1" textLength="151.14" lengthAdjust="spacingAndGlyphs">6000</text>
<text x="138.93" y="2108.05" font-family="'Liberation Serif', 'Times New Roman', serif" font-size="78.5" stroke="#fff" stroke-width="1.1" textLength="151.14" lengthAdjust="spacingAndGlyphs">8000</text>
<text x="101.15" y="1916.63" font-family="'Liberation Serif', 'Times New Roman', serif" font-size="78.5" stroke="#fff" stroke-width="1.1" textLength="188.93" lengthAdjust="spacingAndGlyphs">10000</text>
<text x="101.15" y="1725.22" font-family="'Liberation Serif', 'Times New Roman', serif" font-size="78.5" stroke="#fff" stroke-width="1.1" textLength="188.93" lengthAdjust="spacingAndGlyphs">12000</text>
<text x="318.39" y="2965.00" font-family="'Liberation Serif', 'Times New Roman', serif" font-size="78.5" stroke="#fff" stroke-width="1.1" textLength="75.57" lengthAdjust="spacingAndGlyphs">20</text>
<text x="640.74" y="2965.00" font-family="'Liberation Serif', 'Times New Roman', serif" font-size="78.5" stroke="#fff" stroke-width="1.1" textLength="75.57" lengthAdjust="spacingAndGlyphs">40</text>
<text x="960.27" y="2965.00" font-family="'Liberation Serif', 'Times New Roman', serif" font-size="78.5" stroke="#fff" stroke-width="1.1" textLength="75.57" lengthAdjust="spacingAndGlyphs">60</text>
<text x="1280.17" y="2965.00" font-family="'Liberation Serif', 'Times New Roman', serif" font-size="78.5" stroke="#fff" stroke-width="1.1" textLength="75.57" lengthAdjust="spacingAndGlyphs">80</text>
<text x="1581.22" y="2965.00" font-family="'Liberation Serif', 'Times New Roman', serif" font-size="78.5" stroke="#fff" stroke-width="1.1" textLength="113.36" lengthAdjust="spacingAndGlyphs">100</text>
<text x="1904.14" y="2965.00" font-family="'Liberation Serif', 'Times New Roman', serif" font-size="78.5" stroke="#fff" stroke-width="1.1" textLength="113.36" lengthAdjust="spacingAndGlyphs">120</text>
<text transform="translate(96.30,0) rotate(-90)" x="-2500.56" y="0" font-family="'Liberation Serif', 'Times New Roman', serif" font-size="79" font-weight="bold" stroke="#fff" stroke-width="0.9" textLength="451.41" lengthAdjust="spacingAndGlyphs">Intensity / cps</text>
<text x="1000.76" y="3038.80" font-family="'Liberation Serif', 'Times New Roman', serif" font-size="73.9" font-weight="bold" stroke="#fff" stroke-width="0.9" textLength="316.43" lengthAdjust="spacingAndGlyphs" >2θ degree</text>
<text x="980.45" y="3168.50" font-family="'Liberation Serif', 'Times New Roman', serif" font-size="76.5" stroke="#fff" stroke-width="1.1" textLength="23.08" lengthAdjust="spacingAndGlyphs" >(</text>
<text x="1004.91" y="3168.50" font-family="'Liberation Serif', 'Times New Roman', serif" font-size="76.5" font-weight="bold" stroke="#fff" stroke-width="0.9" textLength="47.55" lengthAdjust="spacingAndGlyphs" >b</text>
<text x="1051.74" y="3168.50" font-family="'Liberation Serif', 'Times New Roman', serif" font-size="76.5" stroke="#fff" stroke-width="1.1" textLength="23.34" lengthAdjust="spacingAndGlyphs" >)</text>
<rect x="1027.0" y="1741.7" width="82.5" height="114.2" fill="#fff" stroke="#111" stroke-width="2.6"/>
<text x="1048.80" y="1826.68" font-family="'Liberation Serif', 'Times New Roman', serif" font-weight="bold" font-size="79" stroke="#fff" stroke-width="0.9" textLength="33.97" lengthAdjust="spacingAndGlyphs">1</text>
<rect x="1029.0" y="1879.6" width="81.0" height="114.2" fill="#fff" stroke="#111" stroke-width="2.6"/>
<text x="1048.88" y="1964.65" font-family="'Liberation Serif', 'Times New Roman', serif" font-weight="bold" font-size="79" stroke="#fff" stroke-width="0.9" textLength="38.31" lengthAdjust="spacingAndGlyphs">2</text>
<rect x="1027.0" y="2014.4" width="82.5" height="112.8" fill="#fff" stroke="#111" stroke-width="2.6"/>
<text x="1047.46" y="2098.37" font-family="'Liberation Serif', 'Times New Roman', serif" font-weight="bold" font-size="79" stroke="#fff" stroke-width="0.9" textLength="38.31" lengthAdjust="spacingAndGlyphs">3</text>
<text x="1128.70" y="1816.50" font-family="'Liberation Serif', 'Times New Roman', serif" font-size="79" font-weight="bold" stroke="#fff" stroke-width="0.9" textLength="263.21" lengthAdjust="spacingAndGlyphs" >- β-NiAl</text>
<text x="1128.53" y="1951.70" font-family="'Liberation Serif', 'Times New Roman', serif" font-size="79" font-weight="bold" stroke="#fff" stroke-width="0.9" textLength="27.05" lengthAdjust="spacingAndGlyphs" >-</text>
<text x="1174.38" y="1951.70" font-family="'Liberation Serif', 'Times New Roman', serif" font-size="79" font-weight="bold" stroke="#fff" stroke-width="0.9" textLength="91.31" lengthAdjust="spacingAndGlyphs" >Cr</text>
<text x="1263.47" y="1969.20" font-family="'Liberation Serif', 'Times New Roman', serif" font-size="49" font-weight="bold" stroke="#fff" stroke-width="0.9" textLength="25.69" lengthAdjust="spacingAndGlyphs" >3</text>
<text x="1288.85" y="1951.70" font-family="'Liberation Serif', 'Times New Roman', serif" font-size="79" font-weight="bold" stroke="#fff" stroke-width="0.9" textLength="59.86" lengthAdjust="spacingAndGlyphs" >C</text>
<text x="1344.84" y="1969.20" font-family="'Liberation Serif', 'Times New Roman', serif" font-size="49" font-weight="bold" stroke="#fff" stroke-width="0.9" textLength="26.86" lengthAdjust="spacingAndGlyphs" >2</text>
<text x="1139.90" y="2079.00" font-family="'Liberation Serif', 'Times New Roman', serif" font-size="79" font-weight="bold" stroke="#fff" stroke-width="0.9" textLength="28.20" lengthAdjust="spacingAndGlyphs" >-</text>
<text x="1184.60" y="2079.00" font-family="'Liberation Serif', 'Times New Roman', serif" font-size="79" font-weight="bold" stroke="#fff" stroke-width="0.9" textLength="90.77" lengthAdjust="spacingAndGlyphs" >Cr</text>
<text x="1273.40" y="2096.50" font-family="'Liberation Serif', 'Times New Roman', serif" font-size="49" font-weight="bold" stroke="#fff" stroke-width="0.9" textLength="26.29" lengthAdjust="spacingAndGlyphs" >7</text>
<text x="1298.45" y="2079.00" font-family="'Liberation Serif', 'Times New Roman', serif" font-size="79" font-weight="bold" stroke="#fff" stroke-width="0.9" textLength="61.43" lengthAdjust="spacingAndGlyphs" >C</text>
<text x="1355.55" y="2096.50" font-family="'Liberation Serif', 'Times New Roman', serif" font-size="49" font-weight="bold" stroke="#fff" stroke-width="0.9" textLength="27.32" lengthAdjust="spacingAndGlyphs" >3</text>
<line x1="1529.6" y1="1836" x2="1587" y2="1836" stroke="#ff0000" stroke-width="5.5"/>
<text x="1589.64" y="1862.30" font-family="'Liberation Serif', 'Times New Roman', serif" font-size="78" font-weight="bold" stroke="#fff" stroke-width="0.9" textLength="159.13" lengthAdjust="spacingAndGlyphs" >1 um</text>
<line x1="1529.6" y1="1948" x2="1587" y2="1948" stroke="#006400" stroke-width="5.5"/>
<text x="1589.48" y="1972.90" font-family="'Liberation Serif', 'Times New Roman', serif" font-size="78" font-weight="bold" stroke="#fff" stroke-width="0.9" textLength="290.65" lengthAdjust="spacingAndGlyphs" >1000 grit</text>
<line x1="1529.6" y1="2056.7" x2="1587" y2="2056.7" stroke="#00008b" stroke-width="5.5"/>
<text x="1589.46" y="2083.00" font-family="'Liberation Serif', 'Times New Roman', serif" font-size="78" font-weight="bold" stroke="#fff" stroke-width="0.9" textLength="214.78" lengthAdjust="spacingAndGlyphs" >80 grit</text>
<rect x="425.2" y="2465.0" width="81.2" height="111.4" fill="#fff" stroke="#111" stroke-width="2.6"/>
<text x="445.01" y="2548.27" font-family="'Liberation Serif', 'Times New Roman', serif" font-weight="bold" font-size="79" stroke="#fff" stroke-width="0.9" textLength="38.31" lengthAdjust="spacingAndGlyphs">3</text>
<rect x="499.4" y="2339.4" width="78.7" height="114.9" fill="#fff" stroke="#111" stroke-width="2.6"/>
<text x="519.30" y="2424.73" font-family="'Liberation Serif', 'Times New Roman', serif" font-weight="bold" font-size="79" stroke="#fff" stroke-width="0.9" textLength="33.97" lengthAdjust="spacingAndGlyphs">1</text>
<rect x="601.3" y="2418.3" width="80.0" height="112.2" fill="#fff" stroke="#111" stroke-width="2.6"/>
<text x="620.51" y="2501.97" font-family="'Liberation Serif', 'Times New Roman', serif" font-weight="bold" font-size="79" stroke="#fff" stroke-width="0.9" textLength="38.31" lengthAdjust="spacingAndGlyphs">3</text>
<rect x="650.3" y="2268.0" width="80.3" height="115.5" fill="#fff" stroke="#111" stroke-width="2.6"/>
<text x="669.83" y="2353.70" font-family="'Liberation Serif', 'Times New Roman', serif" font-weight="bold" font-size="79" stroke="#fff" stroke-width="0.9" textLength="38.31" lengthAdjust="spacingAndGlyphs">2</text>
<rect x="716.1" y="1787.9" width="80.2" height="113.3" fill="#fff" stroke="#111" stroke-width="2.6"/>
<text x="736.75" y="1872.43" font-family="'Liberation Serif', 'Times New Roman', serif" font-weight="bold" font-size="79" stroke="#fff" stroke-width="0.9" textLength="33.97" lengthAdjust="spacingAndGlyphs">1</text>
<rect x="786.8" y="2437.5" width="79.9" height="115.3" fill="#fff" stroke="#111" stroke-width="2.6"/>
<text x="806.13" y="2523.10" font-family="'Liberation Serif', 'Times New Roman', serif" font-weight="bold" font-size="79" stroke="#fff" stroke-width="0.9" textLength="38.31" lengthAdjust="spacingAndGlyphs">2</text>
<rect x="887.6" y="2440.0" width="79.9" height="112.8" fill="#fff" stroke="#111" stroke-width="2.6"/>
<text x="908.10" y="2524.28" font-family="'Liberation Serif', 'Times New Roman', serif" font-weight="bold" font-size="79" stroke="#fff" stroke-width="0.9" textLength="33.97" lengthAdjust="spacingAndGlyphs">1</text>
<rect x="980.1" y="2426.5" width="79.9" height="114.0" fill="#fff" stroke="#111" stroke-width="2.6"/>
<text x="999.43" y="2511.45" font-family="'Liberation Serif', 'Times New Roman', serif" font-weight="bold" font-size="79" stroke="#fff" stroke-width="0.9" textLength="38.31" lengthAdjust="spacingAndGlyphs">2</text>
<rect x="1059.2" y="2396.4" width="79.8" height="112.6" fill="#fff" stroke="#111" stroke-width="2.6"/>
<text x="1079.65" y="2480.58" font-family="'Liberation Serif', 'Times New Roman', serif" font-weight="bold" font-size="79" stroke="#fff" stroke-width="0.9" textLength="33.97" lengthAdjust="spacingAndGlyphs">1</text>
<rect x="1149.0" y="2393.0" width="80.4" height="113.2" fill="#fff" stroke="#111" stroke-width="2.6"/>
<text x="1168.41" y="2477.17" font-family="'Liberation Serif', 'Times New Roman', serif" font-weight="bold" font-size="79" stroke="#fff" stroke-width="0.9" textLength="38.31" lengthAdjust="spacingAndGlyphs">3</text>
<rect x="1230.7" y="2417.9" width="79.3" height="112.6" fill="#fff" stroke="#111" stroke-width="2.6"/>
<text x="1249.73" y="2502.15" font-family="'Liberation Serif', 'Times New Roman', serif" font-weight="bold" font-size="79" stroke="#fff" stroke-width="0.9" textLength="38.31" lengthAdjust="spacingAndGlyphs">2</text>
<rect x="1323.7" y="2385.0" width="79.9" height="115.4" fill="#fff" stroke="#111" stroke-width="2.6"/>
<text x="1344.20" y="2470.58" font-family="'Liberation Serif', 'Times New Roman', serif" font-weight="bold" font-size="79" stroke="#fff" stroke-width="0.9" textLength="33.97" lengthAdjust="spacingAndGlyphs">1</text>
<rect x="1585.0" y="2451.0" width="77.5" height="115.2" fill="#fff" stroke="#111" stroke-width="2.6"/>
<text x="1604.30" y="2536.48" font-family="'Liberation Serif', 'Times New Roman', serif" font-weight="bold" font-size="79" stroke="#fff" stroke-width="0.9" textLength="33.97" lengthAdjust="spacingAndGlyphs">1</text>
<rect x="1855.1" y="2448.2" width="80.2" height="112.1" fill="#fff" stroke="#111" stroke-width="2.6"/>
<text x="1875.75" y="2532.13" font-family="'Liberation Serif', 'Times New Roman', serif" font-weight="bold" font-size="79" stroke="#fff" stroke-width="0.9" textLength="33.97" lengthAdjust="spacingAndGlyphs">1</text>
<line x1="622.2" y1="2531.8" x2="653.6" y2="2565.9" stroke="#111" stroke-width="2.4"/>
<polyline points="649.9,2549.3 653.6,2565.9 637.4,2560.8" fill="none" stroke="#111" stroke-width="2.4" stroke-linejoin="miter"/>
<line x1="655.0" y1="2534.4" x2="686.4" y2="2568.5" stroke="#111" stroke-width="2.4"/>
<polyline points="682.7,2551.9 686.4,2568.5 670.2,2563.4" fill="none" stroke="#111" stroke-width="2.4" stroke-linejoin="miter"/>
<line x1="682.4" y1="2383.5" x2="717.8" y2="2495.2" stroke="#111" stroke-width="2.4"/>
<polyline points="721.5,2478.6 717.8,2495.2 705.2,2483.7" fill="none" stroke="#111" stroke-width="2.4" stroke-linejoin="miter"/>
<line x1="825.3" y1="2552.8" x2="825.3" y2="2742.7" stroke="#111" stroke-width="2.4"/>
<polyline points="833.8,2728.0 825.3,2742.7 816.8,2728.0" fill="none" stroke="#111" stroke-width="2.4" stroke-linejoin="miter"/>
<line x1="1004.2" y1="2530.5" x2="1039.0" y2="2573.7" stroke="#111" stroke-width="2.4"/>
<polyline points="1036.4,2556.9 1039.0,2573.7 1023.1,2567.6" fill="none" stroke="#111" stroke-width="2.4" stroke-linejoin="miter"/>
<line x1="1181.0" y1="2507.0" x2="1209.3" y2="2573.7" stroke="#111" stroke-width="2.4"/>
<polyline points="1211.4,2556.8 1209.3,2573.7 1195.7,2563.5" fill="none" stroke="#111" stroke-width="2.4" stroke-linejoin="miter"/>
<line x1="1264.8" y1="2531.8" x2="1296.2" y2="2564.6" stroke="#111" stroke-width="2.4"/>
<polyline points="1292.2,2548.1 1296.2,2564.6 1279.9,2559.8" fill="none" stroke="#111" stroke-width="2.4" stroke-linejoin="miter"/>
</svg></body></html>
